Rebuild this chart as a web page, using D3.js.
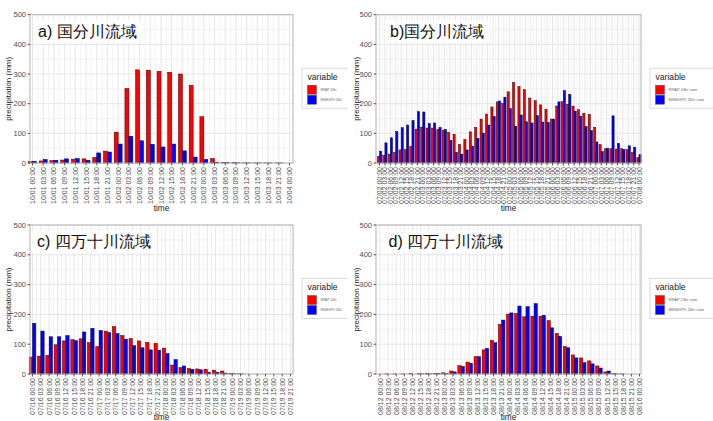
<!DOCTYPE html>
<html>
<head>
<meta charset="utf-8">
<script src="https://cdn.jsdelivr.net/npm/d3@7"></script>
<style>
body { margin: 0; background: #fff; }
text { font-family: "Liberation Sans", Arial, sans-serif; }
</style>
</head>
<body>
<div id="chart"></div>
<script>
// tick labels are every 3 hours from a start day
function timeLabels(month, day, count) {
  var out = [];
  for (var i = 0; i < count; i++) {
    var d = day + Math.floor(i * 3 / 24);
    var h = (i * 3) % 24;
    out.push(month + "/" + String(d).padStart(2, "0") + " " + String(h).padStart(2, "0") + ":00");
  }
  return out;
}

var yTicks = [0, 100, 200, 300, 400, 500];

// a) 国分川流域
var labelsA = timeLabels("10", 1, 25);
var rrapA = [5, 7, 8, 10, 13, 14, 19, 40, 104, 251, 314, 313, 309, 306, 300, 262, 156, 15, 2, 1, 0.5, 0.3, 0.3, 0.3, 0];
var msmA  = [6, 12, 9, 14, 15, 9, 34, 37, 64, 90, 75, 63, 54, 64, 41, 20, 12, 3, 1, 0.5, 0.5, 0.3, 0.3, 0.3, 0];

// b)国分川流域
var labelsB = timeLabels("07", 2, 49);
var rrapB = [22, 25, 30, 35, 44, 45, 56, 114, 121, 118, 118, 113, 111, 103, 97, 62, 79, 105, 120, 148,
             165, 189, 206, 200, 240, 272, 258, 247, 219, 210, 196, 181, 148, 192, 207, 198, 192, 180, 168, 164,
             120, 62, 48, 48, 47, 48, 45, 35, 18];
var msmB  = [40, 68, 85, 106, 119, 128, 143, 173, 172, 133, 135, 120, 113, 76, 36, 30, 44, 57, 83, 101,
             128, 157, 209, 222, 183, 124, 162, 139, 135, 160, 138, 137, 148, 206, 244, 231, 175, 158, 123, 109,
             71, 39, 50, 159, 66, 46, 58, 53, 28];

// c) 四万十川流域
var labelsC = timeLabels("07", 16, 32);
var rrapC = [57, 60, 63, 98, 111, 115, 118, 105, 92, 144, 159, 129, 119, 111, 106, 103, 87, 30, 22, 18,
             17, 16, 13, 10, 2, 0.5, 0, 0, 0, 0, 0, 0];
var msmC  = [170, 144, 125, 125, 129, 112, 141, 153, 146, 139, 136, 117, 95, 88, 81, 80, 69, 48, 27, 16,
             14, 6, 6, 3, 1, 0.3, 0, 0, 0, 0, 0, 0];

// d) 四万十川流域
var labelsD = timeLabels("08", 12, 33);
var rrapD = [0, 0.5, 0.5, 0.5, 1, 1, 2, 2, 4, 10, 28, 40, 58, 81, 113, 167, 201, 203, 192, 194,
             194, 179, 136, 92, 64, 54, 44, 27, 7, 1, 0.5, 0, 0];
var msmD  = [0, 0, 0, 0, 0, 0.5, 0.5, 1, 2, 7, 25, 36, 58, 86, 105, 181, 205, 228, 226, 236,
             197, 155, 126, 88, 54, 38, 34, 20, 10, 0.5, 0, 0, 0];

var svg = d3.select("#chart").append("svg")
  .attr("width", 713)
  .attr("height", 421);

svg.append("defs").append("clipPath").attr("id", "leftClip")
  .append("rect").attr("x", 0).attr("y", 0).attr("width", 348).attr("height", 421);

var leftCol = svg.append("g").attr("clip-path", "url(#leftClip)");
var rightCol = svg.append("g");

function drawPanel(root, cfg, labels, rrap, msm) {
  var g = root.append("g");
  var n = labels.length;

  var x = d3.scaleLinear().domain([0, n - 1]).range([cfg.x0, cfg.x1]);
  var y = d3.scaleLinear().domain([0, 500]).range([cfg.bottom, cfg.top]);
  var step = (cfg.x1 - cfg.x0) / (n - 1);
  var bw = step * cfg.frac / 2;

  // grid
  var minorY = d3.range(50, 500, 100);
  g.selectAll(".gyMinor").data(minorY).enter().append("line")
    .attr("x1", cfg.left).attr("x2", cfg.right)
    .attr("y1", d => y(d)).attr("y2", d => y(d))
    .attr("stroke", "#f3f3f3");
  var minorX = d3.range(-0.5, n, 1).filter(d => x(d) > cfg.left && x(d) < cfg.right);
  g.selectAll(".gxMinor").data(minorX).enter().append("line")
    .attr("x1", d => x(d)).attr("x2", d => x(d))
    .attr("y1", cfg.top).attr("y2", cfg.bottom)
    .attr("stroke", "#f3f3f3");
  g.selectAll(".gy").data(yTicks).enter().append("line")
    .attr("x1", cfg.left).attr("x2", cfg.right)
    .attr("y1", d => y(d)).attr("y2", d => y(d))
    .attr("stroke", "#e6e6e6");
  g.selectAll(".gx").data(labels).enter().append("line")
    .attr("x1", (d, i) => x(i)).attr("x2", (d, i) => x(i))
    .attr("y1", cfg.top).attr("y2", cfg.bottom)
    .attr("stroke", "#e6e6e6");

  // bars
  g.selectAll(".rrap").data(rrap).enter().append("rect")
    .attr("x", (d, i) => x(i) - bw)
    .attr("y", d => y(d))
    .attr("width", bw)
    .attr("height", d => cfg.bottom - y(d))
    .attr("fill", "#ff0000")
    .attr("stroke", "#3a0000")
    .attr("stroke-width", 0.5);
  g.selectAll(".msm").data(msm).enter().append("rect")
    .attr("x", (d, i) => x(i))
    .attr("y", d => y(d))
    .attr("width", bw)
    .attr("height", d => cfg.bottom - y(d))
    .attr("fill", "#0000ff")
    .attr("stroke", "#00003a")
    .attr("stroke-width", 0.5);

  // border
  g.append("rect")
    .attr("x", cfg.left).attr("y", cfg.top)
    .attr("width", cfg.right - cfg.left).attr("height", cfg.bottom - cfg.top)
    .attr("fill", "none").attr("stroke", "#b3b3b3");

  // y axis
  g.selectAll(".yt").data(yTicks).enter().append("line")
    .attr("x1", cfg.left - 2.5).attr("x2", cfg.left)
    .attr("y1", d => y(d)).attr("y2", d => y(d))
    .attr("stroke", "#555");
  g.selectAll(".yl").data(yTicks).enter().append("text")
    .attr("x", cfg.left - 4)
    .attr("y", d => y(d) + 2.6)
    .attr("text-anchor", "end")
    .attr("font-size", "7.5px")
    .attr("fill", "#4d4d4d")
    .text(d => d);
  g.append("text")
    .attr("transform", `translate(${cfg.ylabX}, ${(cfg.top + cfg.bottom) / 2}) rotate(-90)`)
    .attr("text-anchor", "middle")
    .attr("font-size", "8px")
    .attr("fill", "#222")
    .text("precipitation (mm)");

  // x axis
  g.selectAll(".xt").data(labels).enter().append("line")
    .attr("x1", (d, i) => x(i)).attr("x2", (d, i) => x(i))
    .attr("y1", cfg.bottom).attr("y2", cfg.bottom + 2.5)
    .attr("stroke", "#555");
  g.selectAll(".xl").data(labels).enter().append("text")
    .attr("transform", (d, i) => `translate(${x(i) + 2.5}, ${cfg.bottom + 4}) rotate(-90)`)
    .attr("text-anchor", "end")
    .attr("font-size", "7px")
    .attr("fill", "#4d4d4d")
    .text(d => d);
  g.append("text")
    .attr("x", (cfg.left + cfg.right) / 2)
    .attr("y", cfg.timeY)
    .attr("text-anchor", "middle")
    .attr("font-size", "8.3px")
    .attr("fill", "#222")
    .text("time");

  // title with white box
  var tbox = g.append("rect").attr("fill", "#fff");
  var title = g.append("text")
    .attr("x", cfg.titleX)
    .attr("y", cfg.top + 22)
    .attr("font-family", "'Noto Sans CJK JP', sans-serif")
    .attr("font-size", "16px")
    .attr("font-weight", 500)
    .attr("fill", "#111")
    .text(cfg.title);
  var tw = title.node().getComputedTextLength();
  tbox.attr("x", cfg.titleX - 5).attr("y", cfg.top + 6)
    .attr("width", tw + 10).attr("height", 22);

  // legend
  var lg = g.append("g").attr("transform", `translate(${cfg.legX}, ${cfg.top + 53.5})`);
  lg.append("rect")
    .attr("x", 0).attr("y", 0).attr("width", 66).attr("height", 40)
    .attr("fill", "#fff").attr("stroke", "#d9d9d9");
  lg.append("text")
    .attr("x", 5.5).attr("y", 11.5)
    .attr("font-size", "8.6px")
    .attr("fill", "#222")
    .text("variable");
  var keys = [{name: cfg.names[0], col: "#ff0000"}, {name: cfg.names[1], col: "#0000ff"}];
  lg.selectAll(".key").data(keys).enter().append("rect")
    .attr("x", 5.5).attr("y", (d, i) => 17 + i * 10)
    .attr("width", 9).attr("height", 9)
    .attr("fill", d => d.col)
    .attr("stroke", "#555").attr("stroke-width", 0.5);
  lg.selectAll(".keyl").data(keys).enter().append("text")
    .attr("x", 18.5).attr("y", (d, i) => 22.7 + i * 10)
    .attr("font-size", cfg.legFont + "px")
    .attr("fill", "#666")
    .text(d => d.name);
}

drawPanel(leftCol, {top: 14.7, bottom: 163, left: 30, right: 293, x0: 32.5, x1: 289.5, frac: 0.74,
  ylabX: 10.5, timeY: 211, titleX: 38, title: "a) 国分川流域", legX: 302, legFont: 3.2,
  names: ["RRAP 24hr", "MSMGPV 24hr"]}, labelsA, rrapA, msmA);

drawPanel(rightCol, {top: 14.7, bottom: 163, left: 376, right: 641, x0: 379.5, x1: 639, frac: 0.8,
  ylabX: 358.5, timeY: 211, titleX: 390, title: "b)国分川流域", legX: 650, legFont: 4,
  names: ["RRAP 24hr sum", "MSMGPV 24hr sum"]}, labelsB, rrapB, msmB);

drawPanel(leftCol, {top: 225, bottom: 374, left: 30, right: 293, x0: 32.5, x1: 290.5, frac: 0.8,
  ylabX: 10.5, timeY: 419.5, titleX: 37, title: "c) 四万十川流域", legX: 302, legFont: 3.2,
  names: ["RRAP 24hr", "MSMGPV 24hr"]}, labelsC, rrapC, msmC);

drawPanel(rightCol, {top: 225, bottom: 374, left: 376, right: 641, x0: 380, x1: 639.5, frac: 0.8,
  ylabX: 358.5, timeY: 419.5, titleX: 388.5, title: "d) 四万十川流域", legX: 650, legFont: 4,
  names: ["RRAP 24hr sum", "MSMGPV 24hr sum"]}, labelsD, rrapD, msmD);
</script>
</body>
</html>
